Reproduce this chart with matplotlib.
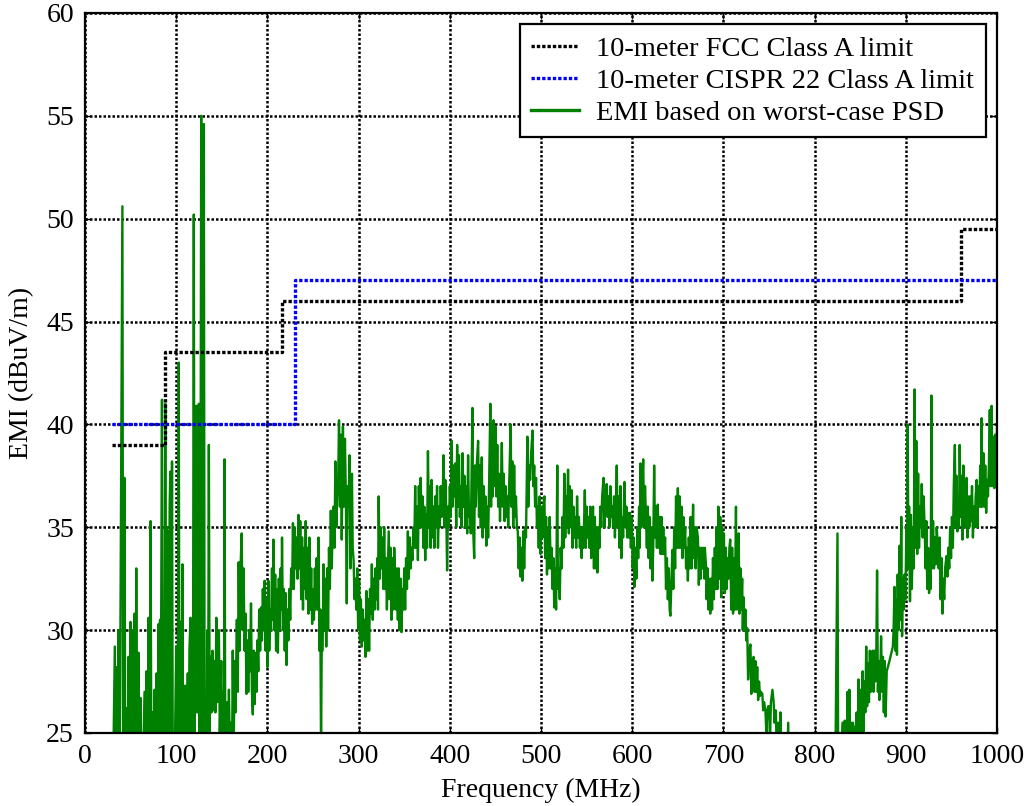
import matplotlib
matplotlib.use("Agg")
import matplotlib.pyplot as plt

# Limit lines (MHz, dBuV/m), drawn as steps
fcc_freq = [30, 88, 88, 216, 216, 960, 960, 1000]
fcc_level = [39.0, 39.0, 43.5, 43.5, 46.0, 46.0, 49.5, 49.5]
cispr_freq = [30, 230, 230, 1000]
cispr_level = [40.0, 40.0, 47.0, 47.0]

# EMI estimate, segment by segment: (MHz, dBuV/m).
# values below 25 are off the bottom of the axes in the original.
emi_low_band = [
    (30, 20), (32.7, 29.2), (33.5, 20), (34.5, 28.2), (35.5, 20), (36.7, 30),
    (37.8, 20), (41, 50.6), (42, 20), (43.3, 37.4), (44.3, 20), (45.5, 26.2),
    (46.5, 20), (47.7, 28.7), (48.8, 20), (49.9, 30.4), (51, 20), (52, 30),
    (53, 20), (54.3, 30.8), (55.2, 20), (56.2, 33), (57.4, 20), (58.7, 28.9),
    (59.8, 20), (61, 26.7), (62, 20), (65.3, 27), (66.3, 20), (67.5, 28),
    (68.6, 20), (69.7, 30.6), (70.8, 20), (71.9, 35.3), (73, 20), (74.2, 26),
    (75.2, 20), (76.3, 27.1), (77.4, 20), (78.5, 27.9), (79.6, 20), (80.8, 30.3),
    (81.5, 22), (82.3, 30.5), (83, 24), (84.4, 41.2), (85.3, 23), (86.3, 30.3),
    (87.1, 22), (88, 41), (88.8, 26), (89.5, 35), (90.3, 24), (91.2, 34.8),
    (92, 25), (92.8, 36), (93.5, 37.7), (94.3, 23), (95.4, 38.2), (96.3, 22),
    (97.2, 20), (98.5, 24), (100, 29.2), (101.2, 20), (102.8, 43), (103.6, 22),
    (104.6, 30.4), (105.6, 23), (106.8, 33.2), (107.8, 21), (108.8, 27),
    (109.4, 22), (110, 27.3), (111, 21), (112.7, 27.9), (113.5, 22), (114.5, 29),
    (115.6, 30.6), (116.5, 23), (117.5, 30), (118.3, 24), (119.3, 50.2),
    (120.2, 24), (121, 31), (122, 40.9), (122.8, 26), (123.8, 40), (124.8, 41),
    (125.6, 24), (126.5, 30), (127.4, 55), (128.3, 20), (129.3, 28), (130.3, 54.6),
    (131.2, 22), (132, 25), (133, 20), (134, 30), (134.8, 22), (135.8, 39),
    (136.7, 25), (137.6, 28.7), (138.6, 26), (139.8, 29), (140.8, 26.1),
    (142, 28.5), (143, 26), (144, 30.6), (145, 26.5), (146.8, 30), (147.8, 25),
    (149.4, 28.5), (150.5, 24), (151.5, 27), (152.3, 22), (153, 38.3), (153.8, 24),
    (155.3, 26.5), (156.3, 22), (157.8, 27.1), (158.8, 24), (160, 25.5), (161, 22),
]

emi_rise = [
    (162, 29), (163, 24), (164, 28.5), (165, 26), (166.5, 30.5), (167.5, 27),
    (168.5, 33.3), (169.5, 29), (170.5, 33), (171.8, 34.7), (172.8, 30),
    (173.8, 33), (175, 29), (176, 30.8), (177, 26.9), (178.2, 29.5), (179, 27),
    (180, 30), (181, 28), (182, 31.3), (183, 27), (184, 25.9), (185, 29),
    (186, 26.4), (187, 28.9), (188, 27), (189, 29.5), (190, 28), (191, 31),
    (192, 29), (193, 31.1), (194, 29.5), (195, 32), (196, 30), (197, 32.4),
    (198, 29), (199, 31.5), (200, 28.2), (201, 32.4), (202, 29), (203, 31),
    (204, 30), (205, 33), (206, 30.5), (206.6, 34.4), (207.5, 30), (208.5, 32.7),
    (209.5, 29), (210.5, 32), (211.5, 28.9), (212.5, 32.5), (213.5, 30),
    (214.5, 33), (215.5, 31), (216, 34.5), (217, 30), (218, 32), (219, 29),
    (220, 31.8), (221, 28.3), (222, 31), (223, 29.5), (224, 32), (225, 30.5),
    (226, 33), (227, 32), (228, 35.2), (229, 32), (230, 35), (231, 33),
    (232, 34.5), (233, 32.5), (234, 35.6), (235, 33), (236, 35.3), (237, 31.5),
    (238, 34.5), (239, 31), (240, 34), (241, 32), (242, 35.3), (243, 31.5),
    (244, 34), (245, 30.8), (246, 34.5), (247, 31), (248, 33), (249, 30.3),
    (250, 32), (251, 30.5), (252, 33), (253, 31), (254, 33.5), (255, 31),
    (256, 34.5), (257, 29), (258, 31), (258.8, 24), (259.5, 29), (260.5, 29),
    (261.5, 33.2), (262.5, 30), (263.5, 32.5), (264.5, 29.2), (265.5, 33),
    (266.5, 30), (267.5, 34), (268.5, 32), (269.5, 35.8), (270.5, 33),
    (271.5, 34.8), (272.5, 36), (273.5, 34), (274.5, 38.2), (275.5, 35),
    (276.5, 36.5), (277.5, 37), (278.5, 40.2), (279.5, 36), (280.5, 39.5),
    (281.5, 34.4), (282.8, 39.9), (283.8, 36), (285, 39.3), (286, 36.5),
    (287, 31.3), (288, 37), (289, 36), (290, 38.5), (291, 33), (292.7, 37.6),
    (293.5, 34), (294.5, 33.4), (295.5, 31.5), (296.5, 32.5), (297.5, 31),
    (298.5, 33), (299.5, 30), (300.5, 32.4), (301.5, 29.5), (302.5, 31.5),
    (303.5, 29.2), (304.5, 31), (305.5, 29.5), (306.5, 30.5), (307.5, 28.7),
    (308.5, 31.9), (309.5, 29), (310.5, 31.5), (311.5, 29), (312.5, 32),
    (313.5, 30.8), (314.5, 33.2), (315.5, 30.5), (316.5, 32.5), (317.5, 31),
    (318.5, 33), (319.5, 31.5), (320.5, 33.5), (321.2, 31), (322, 36.5),
    (323, 32.5), (324, 35), (325, 33), (326, 34.5), (327, 32), (328, 35),
    (329, 32), (330, 33.5), (331, 31), (332, 33), (333, 34.8), (334, 31.5),
    (335, 34), (336, 30.5), (337, 33.5), (338, 31), (339, 34), (340, 32.7),
    (341, 31), (342, 33), (343, 30.5), (344, 33), (345, 30), (346, 32.5),
    (347, 29.9), (348, 32), (349, 31), (350, 33), (351, 31), (352, 33.5),
    (353, 32), (354, 34.8), (355, 32.5), (356, 34.5), (357, 33), (358, 34),
    (359, 33.4), (360, 35), (361, 34), (362, 37), (363, 34), (364, 36),
    (365, 33.4), (366, 37), (367, 35), (368, 37.4), (369, 35), (370, 36.5),
    (371, 34), (372, 36), (373, 33.4), (374, 35.6), (375, 34), (376, 38.7),
    (377, 35), (378, 37), (379, 34), (380, 37.3), (381, 34.5), (382, 36),
    (383, 34), (384, 36.5), (385, 35), (386, 37), (387, 34), (388, 36),
    (389, 35), (390, 37), (391, 35.5), (392, 36), (393, 38.5), (394, 35),
    (395, 37.3), (396, 36), (397, 32.9), (398, 36), (399, 35), (400, 37),
]

emi_plateau = [
    (401, 35.5), (402, 39.2), (403, 36), (404, 38), (405, 36.5), (406, 38.1),
    (407, 35), (408, 39), (409, 36), (410, 38.5), (411, 35.5), (412, 37),
    (413, 35), (414, 38.6), (415, 36), (416, 37.5), (417, 35), (418, 37),
    (419, 34.7), (420, 38.5), (421, 35.5), (422, 36), (423, 34.7), (424.8, 40.8),
    (425.5, 35), (426.7, 33.5), (427.5, 38), (428.5, 36), (429.5, 38), (431, 39.2),
    (432, 35.5), (433, 38), (434, 35), (435, 38.4), (436, 34.5), (437, 37),
    (438, 35), (439, 36.5), (440, 34.1), (441, 36), (442, 34.5), (443, 37),
    (444.4, 41), (445.2, 36), (446, 40), (447, 36.5), (448, 40.2), (449, 37),
    (450, 39.9), (451, 36.5), (452, 39), (453, 36), (454, 37.6), (455, 35.3),
    (456, 37), (457, 39.1), (458, 36), (459, 37.6), (460, 35.3), (461, 37),
    (462, 35.5), (463, 36.5), (464, 35), (465, 37), (466.7, 40), (467.5, 36),
    (468.5, 38.2), (469.5, 35), (470.5, 38), (471.5, 35.5), (472.5, 36.5),
    (473.5, 35), (474.5, 34.8), (475.5, 33), (476.5, 34.5), (477.5, 32.6),
    (478.5, 34), (479.5, 32.4), (480.5, 34.8), (481.5, 33), (482.5, 35),
    (483.5, 34.5), (485, 39.4), (486, 36), (487, 38), (488, 37.3), (489, 38.5),
    (490.7, 39.7), (491.5, 37), (492.5, 38), (493.5, 36), (494.5, 37.4),
    (495.5, 35), (496.5, 36), (497.5, 34), (498.5, 36.5), (499.5, 33.7),
    (500.5, 36), (501.5, 34.5), (502.5, 36), (503.7, 36.5), (504.5, 33.5),
    (505.5, 35.5), (506.5, 32.7), (507.5, 35), (508.5, 33), (509.5, 35.5),
    (510.5, 33), (511.5, 34), (512.5, 32), (513.5, 33.5), (514.5, 31.1),
    (515.5, 33), (516.5, 31), (517.8, 38), (518.5, 32), (519.5, 33),
    (520.5, 31.5), (521.5, 34), (522.5, 33), (523.5, 35.5), (524.5, 34),
    (525.5, 37.6), (526.5, 34.5), (527.5, 36.5), (528.5, 35), (529.6, 37.8),
    (530.5, 34.7), (531.5, 37), (532.5, 35), (533.5, 36.8), (534.5, 34),
    (535.5, 36), (536.5, 34.5), (537.5, 35.5), (538.5, 34), (539.5, 36.5),
    (540.5, 34.5), (541.5, 35.5), (542.6, 34), (543.5, 35), (544.5, 33.5),
    (545.5, 35), (546.5, 34), (548, 36.8), (549, 34), (550, 36), (551, 34.5),
    (552, 35.5), (553, 34), (554, 36), (555, 33.5), (556, 35), (557, 36),
    (558, 33), (559, 35.5), (560, 33), (561, 35), (561.8, 32.8), (563, 35),
    (564, 34), (565, 36), (566, 35), (567, 36.5), (568.5, 37.4), (569.5, 35),
    (570.5, 36.5), (572, 37.1), (573, 35.5), (574, 36.5), (575, 35), (576, 37),
    (577, 35.5), (578, 36), (579, 35), (580, 36.5), (581, 34.5), (582, 36),
    (583, 38), (584, 35), (585, 36.5), (586, 34), (587, 37), (588, 33.5),
    (589, 35.5), (590, 34.5), (591.5, 37.2), (592.5, 35), (593.5, 36),
    (594.5, 34.5), (595.5, 35.7), (596.5, 34.5), (597.5, 35.7), (598.5, 34),
    (599.5, 35.5), (600.5, 33),
]

emi_fall = [
    (601.5, 34.5), (602.5, 32.1), (603.5, 34), (604.5, 32.5), (605.5, 35),
    (606.5, 33.5), (607.5, 36), (608.2, 34), (609, 38.1), (610, 35), (611, 37),
    (612, 38.3), (613, 35), (614, 37), (614.8, 35.8), (616, 34), (617, 36),
    (618, 33.5), (619, 35.5), (620, 33), (621, 35), (622, 32.4), (623, 34),
    (624, 38), (625, 34.5), (626, 36), (627, 34), (628, 36.1), (629, 34),
    (630, 35.5), (631, 33.7), (632, 35.5), (633, 33.7), (634, 35), (635, 33.7),
    (636, 34.5), (637, 32), (638, 33.5), (639, 31.5), (640, 33), (641, 31),
    (641.8, 30.7), (643, 32.5), (644, 33.9), (645, 32), (646, 35), (647, 33),
    (648, 36.5), (649, 34), (650, 36.9), (651, 34), (652, 36.5), (653, 34),
    (654, 36), (655, 33.5), (656, 35.5), (657, 34), (658, 35), (659, 33),
    (660, 34), (661, 32.4), (662, 34.5), (663, 33), (664, 35.5), (665, 33),
    (666.7, 36.1), (667.5, 33.5), (668.5, 35), (669.5, 33), (670.5, 35),
    (672, 34.5), (673, 32.2), (674, 34), (675, 32.5), (676, 34), (677, 33),
    (678, 34), (679, 32.5), (679.6, 34), (681, 33), (681.5, 31.5), (682.5, 33),
    (683.5, 31), (684.5, 32.5), (685.5, 30.8), (686.5, 32.5), (687.5, 31),
    (688.5, 33.5), (689.5, 31.5), (690.5, 34), (691.5, 32), (692.5, 35),
    (693.5, 32), (694.4, 36), (695.5, 32.5), (696.5, 35.5), (697.5, 31.6),
    (698.5, 35), (699.5, 32), (700.5, 34.7), (701.5, 31.8), (702.5, 34),
    (703.5, 32), (704.5, 33.5), (705.5, 32.5), (706.5, 34), (707.4, 34.4),
    (708.5, 31), (709.5, 34), (710.5, 30.8), (711.5, 33.5), (712.5, 31),
    (713.7, 36), (714.5, 31), (715.5, 34), (716.7, 34.7), (717.5, 30.8),
    (718.5, 33), (719.5, 31), (720.5, 32.5), (721.2, 30), (722, 31.6), (723, 30),
    (724, 31), (725, 29.5), (726, 30.1), (727, 27.6), (728, 29), (729.6, 29.3),
    (730.5, 26.9), (731.5, 28.5), (733, 28.7), (734, 27), (735, 28.5), (736, 27),
    (737, 28.2), (738, 26.6), (739, 27.5), (740, 26.8), (741, 27), (742.6, 26.9),
    (743.5, 26.1), (744.5, 26.5), (746, 26.1), (747, 25), (748, 26), (749, 26.3),
    (750, 26.3), (751, 24.5), (752, 26.5), (753.7, 27.1), (755, 26.5),
    (756, 25.5), (757.4, 26.1), (758.5, 24), (760, 25.5), (761, 24), (762.5, 26),
    (763.5, 23), (765, 25), (766, 22), (768, 24.5), (769, 22), (771, 25.5),
    (772, 22), (774, 22), (776, 20), (800, 18), (822, 20),
]

emi_high_band = [
    (825, 34.7), (826, 20), (830.5, 25.5), (831, 20), (833, 25.6), (834, 20),
    (836, 27), (837, 23), (838, 27.1), (839, 24), (840, 25.5), (841, 22),
    (842, 25.5), (843, 22), (844, 25.3), (845, 21), (846, 26), (847, 23),
    (848, 27.6), (849, 24), (850, 27.1), (851, 24), (852.6, 28), (853.5, 25),
    (854.5, 27.5), (855.5, 26), (856.5, 29.2), (857.5, 26.3), (858.5, 28.4),
    (859.5, 26.5), (860.5, 29), (861.5, 27), (862.5, 28.5), (863.6, 29),
    (864.5, 27), (865.5, 29), (866.5, 27.5), (867.5, 28.5), (868.4, 32.9),
    (869.3, 27), (870.3, 28.5), (871, 26.6), (872, 28), (872.8, 29.7),
    (873.8, 27), (874.8, 28.7), (875.8, 26), (876.8, 28.5), (877.8, 25.8),
    (879, 28), (882, 28.5), (885.7, 29.2), (886.5, 30), (887.5, 32.1),
    (888.5, 29), (889.5, 31.5), (890.2, 28.8), (891, 32.7), (892, 30),
    (893, 34.1), (894, 30.5), (894.9, 35.5), (895.8, 29.7), (896.8, 32.5),
    (897.8, 31), (898.5, 32.7), (899.5, 31.5), (900.5, 35), (901.2, 33),
    (902, 40), (902.8, 33), (903.5, 36), (904.5, 31.4), (905.5, 35.6),
    (906.5, 32), (907.7, 35), (908.6, 33), (909.6, 41.7), (910.4, 34),
    (911.4, 39.2), (912.4, 33.7), (913.4, 37.6), (914.4, 34), (915.4, 36),
    (916.4, 35), (917.4, 37.1), (918.4, 34.5), (919.4, 36.5), (920.6, 35),
    (921.6, 33), (922.4, 35.3), (923.4, 32), (924.4, 34), (925.4, 31.8),
    (926.4, 32.7), (927.2, 32), (928, 41.4), (928.8, 33), (929.8, 35.3),
    (930.8, 33), (931.8, 34.5), (932.8, 33.2), (933.8, 35), (935, 34),
    (936, 33), (937, 34.5), (938, 31.5), (939, 33.5), (940, 30.8), (941, 32.5),
    (942, 31.5), (943, 33), (944.5, 33.6), (945.5, 32.6), (946.5, 34),
    (947.5, 33), (948.5, 35), (949.5, 33.5), (950.5, 35.5), (951.5, 34),
    (952.5, 37), (953.7, 39), (954.5, 35), (955.5, 37.5), (956.5, 34.8),
    (957.5, 36.5), (958.2, 35), (959, 39), (960, 35.5), (961, 37.5),
    (962, 34.4), (963, 38), (964, 35), (964.7, 37.3), (965.5, 35),
    (966.5, 37.4), (967.5, 34.5), (968.5, 36.5), (969.5, 35), (970.5, 36.5),
    (971.5, 35.3), (972.5, 37), (973.5, 34.5), (974.5, 36), (975.5, 35),
    (976.5, 36.5), (977.6, 37.3), (978.5, 35), (979.5, 37), (980.5, 36),
    (981.5, 38), (982.3, 36), (983, 40.3), (983.8, 36), (985, 38.6), (986, 36),
    (987, 38), (988, 35.7), (989, 37.3), (990, 36.5), (991, 38), (992, 40.7),
    (992.8, 37), (994, 40.9), (995, 37), (996, 39.4), (997, 36.9), (998, 39.5),
    (999, 37.5), (1000, 40),
]

x_ticks = list(range(0, 1001, 100))
y_ticks = list(range(25, 61, 5))

emi = emi_low_band + emi_rise + emi_plateau + emi_fall + emi_high_band
emi_freq = [f for f, _ in emi]
emi_level = [v for _, v in emi]

plt.rcParams["font.family"] = ["Liberation Serif", "DejaVu Serif"]

fig = plt.figure(figsize=(10.29, 8.06), dpi=100)
ax = fig.add_axes([0.0826, 0.0906, 0.8864, 0.8934])

ax.plot(fcc_freq, fcc_level, color="black", linestyle=(0, (1, 0.6)),
        linewidth=2.4, label="10-meter FCC Class A limit", zorder=3)
ax.plot(cispr_freq, cispr_level, color="#0000ff", linestyle=(0, (1, 0.6)),
        linewidth=2.4, label="10-meter CISPR 22 Class A limit", zorder=3)
ax.plot(emi_freq, emi_level, color="#008000", linewidth=1.7,
        label="EMI based on worst-case PSD", zorder=2)

ax.set_xlim(0, 1000)
ax.set_ylim(25, 60)
ax.set_xticks(x_ticks)
ax.set_yticks(y_ticks)
ax.grid(True, color="black", linestyle=(0, (1, 0.8)), linewidth=1.8)
ax.set_axisbelow(True)
ax.tick_params(direction="in", length=4, width=1, labelsize=20, pad=8,
               top=True, right=True)
for sp in ax.spines.values():
    sp.set_linewidth(1.6)

ax.set_xlabel("Frequency (MHz)", fontsize=20, labelpad=6)
ax.set_ylabel("EMI (dBuV/m)", fontsize=20, labelpad=9)

leg = ax.legend(loc="upper right", fontsize=20.5, fancybox=False,
                framealpha=1, edgecolor="black", handlelength=1.7,
                handletextpad=0.6, borderaxespad=0.4, labelspacing=0.22,
                borderpad=0.4)
leg.get_frame().set_linewidth(1.6)
for h in leg.get_lines():
    h.set_linewidth(2.4)

fig.savefig("out.png", dpi=100)
